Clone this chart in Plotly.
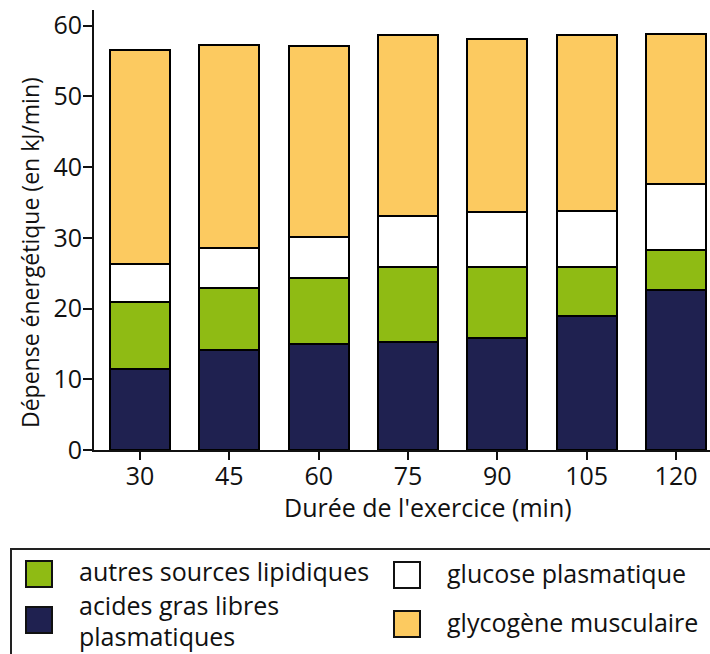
import plotly.graph_objects as go

durations = ["30", "45", "60", "75", "90", "105", "120"]
acides_gras = [11.5, 14.1, 15.0, 15.2, 15.9, 19.0, 22.6]
autres_lipides = [9.4, 8.8, 9.3, 10.6, 10.0, 6.9, 5.7]
glucose = [5.4, 5.6, 5.8, 7.3, 7.7, 7.9, 9.3]
glycogene = [30.3, 28.8, 27.0, 25.5, 24.5, 24.9, 21.2]

series_names = ["acides gras libres<br>plasmatiques", "autres sources lipidiques",
                "glucose plasmatique", "glycogène musculaire"]
series_values = [acides_gras, autres_lipides, glucose, glycogene]
series_colors = ["#1f2150", "#8fbb14", "#ffffff", "#fcca60"]

FONT = "Open Sans"
W, H = 710, 654
ML, MR, MT, MB = 94, 0, 10, 204
PW, PH = W - ML - MR, H - MT - MB

def px(x):
    return (x - ML) / PW

def py(y):
    return (H - MB - y) / PH

fig = go.Figure()
for name, vals, col in zip(series_names, series_values, series_colors):
    fig.add_trace(go.Bar(
        x=durations, y=vals, name=name, width=0.67,
        marker=dict(color=col, line=dict(color="black", width=2)),
        showlegend=False, hoverinfo="skip",
    ))

shapes = [dict(type="rect", xref="paper", yref="paper",
               x0=px(11), x1=px(722), y0=py(670), y1=py(549),
               line=dict(color="#222", width=2), fillcolor="rgba(0,0,0,0)")]
annotations = []

# legend layout: (series index, square x, square y-centre, text-line y-centres)
legend_items = [
    (1, 26, 574, [571]),
    (0, 26, 620, [605, 636]),
    (2, 394, 575, [573]),
    (3, 394, 624, [622]),
]
for idx, sx, sy, tys in legend_items:
    shapes.append(dict(type="rect", xref="paper", yref="paper",
                       x0=px(sx), x1=px(sx + 26), y0=py(sy + 13), y1=py(sy - 13),
                       line=dict(color="#111", width=2), fillcolor=series_colors[idx]))
    for line_text, ty in zip(series_names[idx].split("<br>"), tys):
        annotations.append(dict(xref="paper", yref="paper", x=px(sx + 51), y=py(ty),
                                xanchor="left", yanchor="middle", align="left",
                                text=line_text, showarrow=False,
                                font=dict(family=FONT, size=25, color="#111")))

annotations.append(dict(xref="paper", yref="paper", x=px(428), y=py(507),
                        xanchor="center", yanchor="middle",
                        text="Durée de l'exercice (min)", showarrow=False,
                        font=dict(family=FONT, size=25, color="#111")))
annotations.append(dict(xref="paper", yref="paper", x=px(30), y=py(253),
                        xanchor="center", yanchor="middle", textangle=-90,
                        text="Dépense énergétique (en kJ/min)", showarrow=False,
                        font=dict(family=FONT, size=23, color="#111")))

fig.update_layout(
    width=W, height=H, barmode="stack", bargap=0,
    margin=dict(l=ML, r=MR, t=MT, b=MB),
    paper_bgcolor="white", plot_bgcolor="white",
    font=dict(family=FONT, size=25, color="#111"),
    shapes=shapes, annotations=annotations,
    xaxis=dict(range=[-0.515, 6.38], showline=True, linecolor="#111", linewidth=2,
               ticks="outside", ticklen=8, tickwidth=2, tickcolor="#111",
               ticklabelstandoff=-5,
               showgrid=False, zeroline=False, tickfont=dict(size=25)),
    yaxis=dict(range=[0, 62.2], showline=True, linecolor="#111", linewidth=2,
               ticks="outside", ticklen=9, tickwidth=2, tickcolor="#111",
               ticklabelstandoff=-4,
               tickvals=[0, 10, 20, 30, 40, 50, 60], showgrid=False, zeroline=False,
               tickfont=dict(size=25)),
)

fig.write_html("out.html", config={"displayModeBar": False},
               post_script="document.body.style.margin='0';document.body.style.overflow='hidden';")
